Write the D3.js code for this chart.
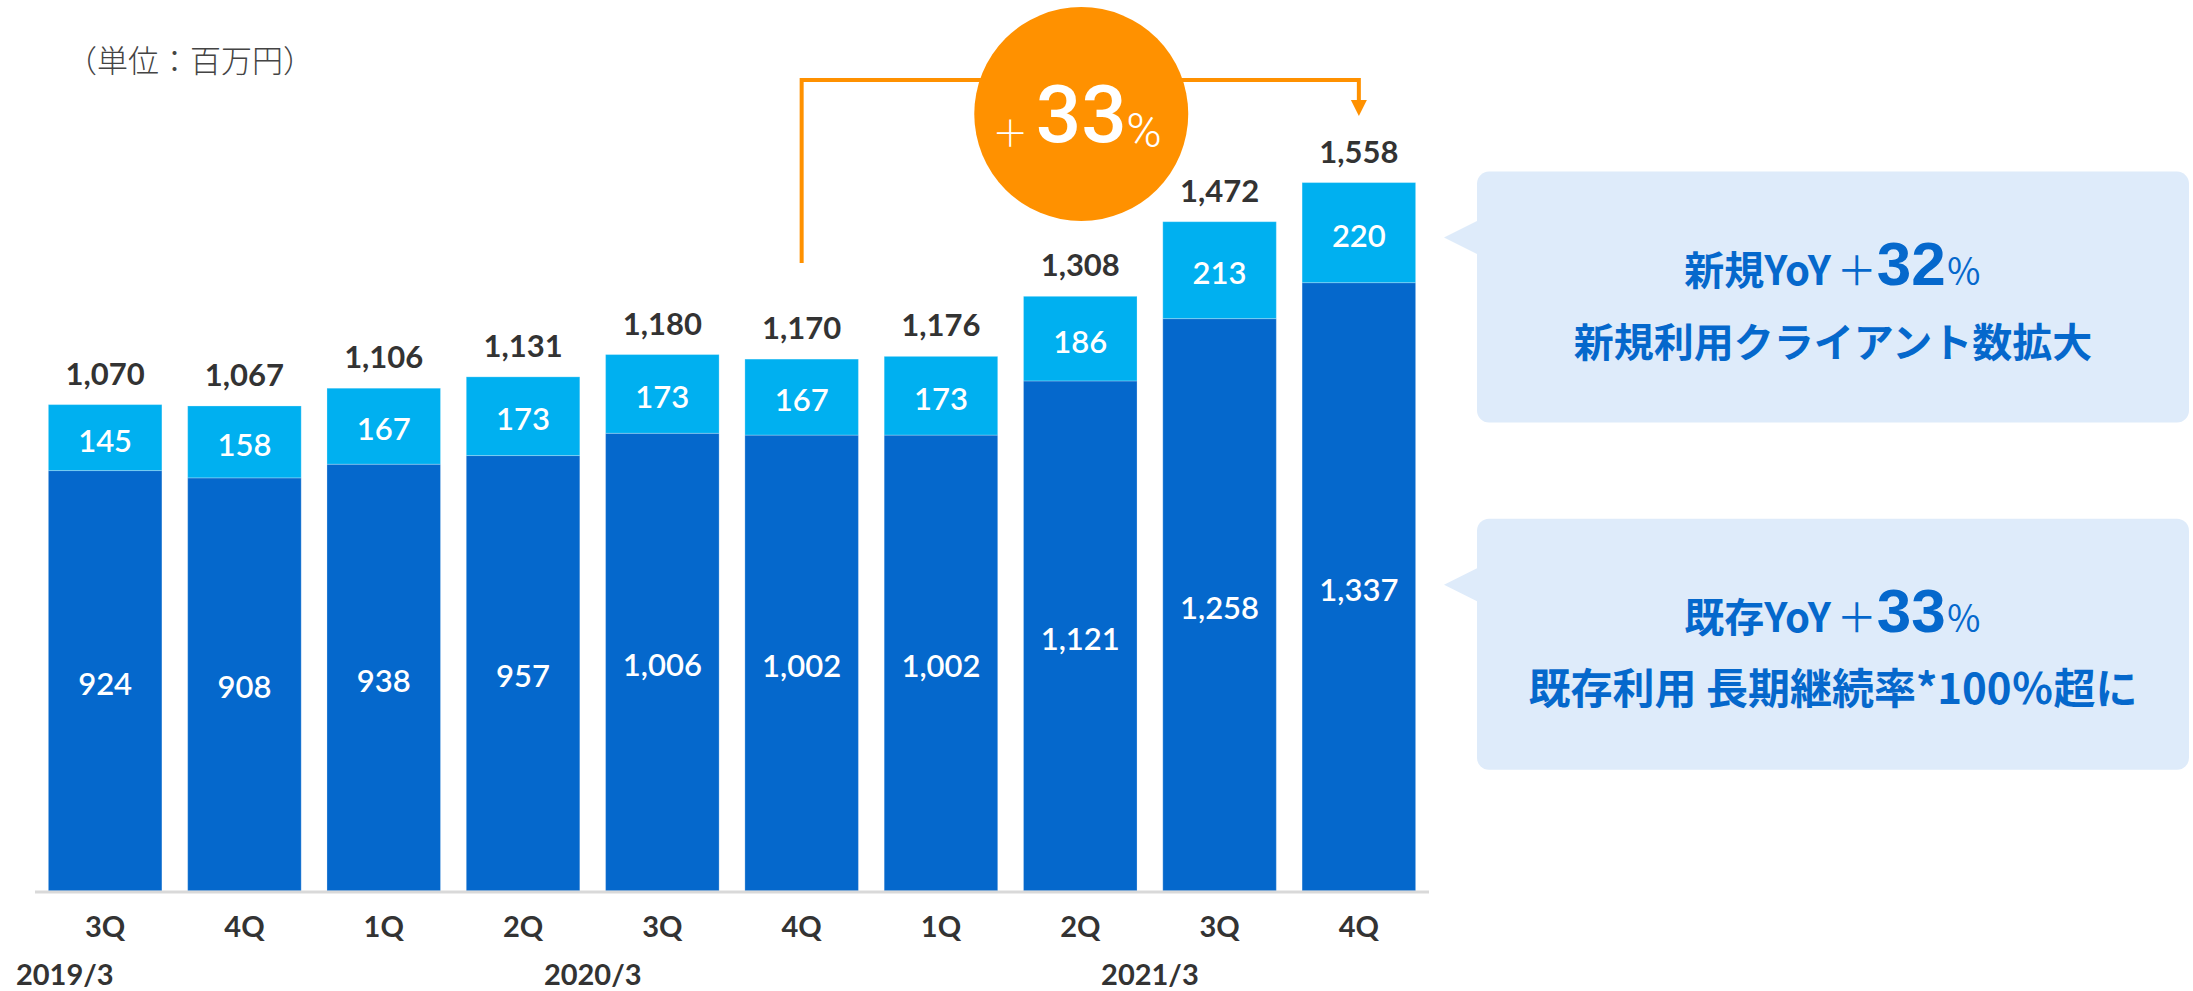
<!DOCTYPE html>
<html>
<head>
<meta charset="utf-8">
<script src="https://cdn.jsdelivr.net/npm/d3@7"></script>
<style>
  body { margin: 0; background: #fff; }
  svg { display: block; }
</style>
</head>
<body>
<div id="chart"></div>
<script>
// quarterly revenue, existing vs new clients (million yen)
let quarters = ["3Q", "4Q", "1Q", "2Q", "3Q", "4Q", "1Q", "2Q", "3Q", "4Q"];
let existing = [924, 908, 938, 957, 1006, 1002, 1002, 1121, 1258, 1337];
let newClients = [145, 158, 167, 173, 173, 167, 173, 186, 213, 220];
let totals = [1070, 1067, 1106, 1131, 1180, 1170, 1176, 1308, 1472, 1558];
let years = ["2019/3", "2020/3", "2021/3"];
let yearIndex = [-0.29, 3.5, 7.5];

let svgWidth = 2193;
let svgHeight = 991;

let darkBlue = "#0568cc";
let lightBlue = "#00b0f0";
let orange = "#ff9100";
let textDark = "#333333";
let latin = "Lato, 'Noto Sans', sans-serif";
let arial = "'Liberation Sans', Arial, sans-serif";
let cjk = "'Noto Sans CJK JP', 'Noto Sans', sans-serif";

let svg = d3.select("#chart")
    .append("svg")
    .attr("width", svgWidth)
    .attr("height", svgHeight);

let data = quarters.map((q, i) => ({
    q: q,
    existing: existing[i],
    newc: newClients[i],
    total: totals[i]
}));

// scales
let xScale = d3.scaleBand()
    .domain(d3.range(quarters.length))
    .range([35, 1429])
    .paddingInner(0.185)
    .paddingOuter(0.096);

let yScale = d3.scaleLinear()
    .domain([0, 1600])
    .range([891, 891 - 1600 * 0.455]);

let xMid = i => xScale(i) + xScale.bandwidth() / 2;

// unit label
svg.append("text")
    .attr("x", 66)
    .attr("y", 58)
    .attr("dominant-baseline", "central")
    .attr("font-family", cjk)
    .attr("font-size", "31px")
    .attr("font-weight", 300)
    .attr("fill", "#444")
    .text("（単位：百万円）");

// bars
let bars = svg.append("g");

bars.selectAll("rect.existing")
    .data(data)
    .enter()
    .append("rect")
    .attr("class", "existing")
    .attr("x", (d, i) => xScale(i))
    .attr("width", xScale.bandwidth())
    .attr("y", d => yScale(d.existing))
    .attr("height", d => yScale(0) - yScale(d.existing))
    .attr("fill", darkBlue)
    .attr("stroke", "rgba(255,255,255,0.25)")
    .attr("stroke-width", 1);

bars.selectAll("rect.newc")
    .data(data)
    .enter()
    .append("rect")
    .attr("class", "newc")
    .attr("x", (d, i) => xScale(i))
    .attr("width", xScale.bandwidth())
    .attr("y", d => yScale(d.existing + d.newc))
    .attr("height", d => yScale(d.existing) - yScale(d.existing + d.newc))
    .attr("fill", lightBlue)
    .attr("stroke", "rgba(255,255,255,0.25)")
    .attr("stroke-width", 1);

// baseline
svg.append("line")
    .attr("x1", xScale.range()[0])
    .attr("x2", xScale.range()[1])
    .attr("y1", yScale(0) + 1)
    .attr("y2", yScale(0) + 1)
    .attr("stroke", "#d9d9d9")
    .attr("stroke-width", 3);

// value labels inside segments
bars.selectAll("text.existing")
    .data(data)
    .enter()
    .append("text")
    .attr("x", (d, i) => xMid(i))
    .attr("y", d => yScale(d.existing / 2) + 2)
    .attr("text-anchor", "middle")
    .attr("dominant-baseline", "central")
    .attr("font-family", latin)
    .attr("font-size", "31px")
    .attr("font-weight", 600)
    .attr("fill", "#fff")
    .text(d => d3.format(",")(d.existing));

bars.selectAll("text.newc")
    .data(data)
    .enter()
    .append("text")
    .attr("x", (d, i) => xMid(i))
    .attr("y", d => yScale(d.existing + d.newc / 2) + 2)
    .attr("text-anchor", "middle")
    .attr("dominant-baseline", "central")
    .attr("font-family", latin)
    .attr("font-size", "31px")
    .attr("font-weight", 600)
    .attr("fill", "#fff")
    .text(d => d3.format(",")(d.newc));

// totals above bars
bars.selectAll("text.total")
    .data(data)
    .enter()
    .append("text")
    .attr("x", (d, i) => xMid(i))
    .attr("y", d => yScale(d.existing + d.newc) - 20)
    .attr("text-anchor", "middle")
    .attr("font-family", latin)
    .attr("font-size", "31px")
    .attr("font-weight", 700)
    .attr("fill", textDark)
    .text(d => d3.format(",")(d.total));

// x axis: quarter labels
let bottomAxis = d3.axisBottom(xScale)
    .tickSize(0)
    .tickPadding(0)
    .tickFormat(i => quarters[i]);

let xAxis = svg.append("g")
    .attr("transform", `translate(0, ${yScale(0)})`)
    .call(bottomAxis);

xAxis.select(".domain").remove();
xAxis.selectAll("text")
    .attr("y", 36)
    .attr("dy", "0.35em")
    .attr("font-family", latin)
    .attr("font-size", "29px")
    .attr("font-weight", 700)
    .attr("fill", textDark);

// fiscal year labels
svg.selectAll("text.year")
    .data(years)
    .enter()
    .append("text")
    .attr("class", "year")
    .attr("x", (d, i) => xMid(0) + yearIndex[i] * xScale.step())
    .attr("y", 975)
    .attr("dy", "0.35em")
    .attr("text-anchor", "middle")
    .attr("font-family", latin)
    .attr("font-size", "29px")
    .attr("font-weight", 700)
    .attr("fill", textDark)
    .text(d => d);

// growth bracket from 4Q 2020/3 to 4Q 2021/3
let fromX = xMid(5);
let toX = xMid(9);
let bracketY = 80;
let arrowTip = yScale(totals[9]) - 66;

svg.append("path")
    .attr("d", `M${fromX},263 V${bracketY} H${toX} V${arrowTip - 16}`)
    .attr("fill", "none")
    .attr("stroke", orange)
    .attr("stroke-width", 4);

svg.append("path")
    .attr("d", `M${toX - 8},${arrowTip - 16} L${toX + 8},${arrowTip - 16} L${toX},${arrowTip} Z`)
    .attr("fill", orange);

let cx = (fromX + toX) / 2 + 1;
svg.append("circle")
    .attr("cx", cx)
    .attr("cy", 114)
    .attr("r", 107)
    .attr("fill", orange);

svg.append("text")
    .attr("x", cx - 71)
    .attr("y", 131)
    .attr("text-anchor", "middle")
    .attr("dominant-baseline", "central")
    .attr("font-family", cjk)
    .attr("font-size", "36px")
    .attr("font-weight", 300)
    .attr("fill", "#fff")
    .text("＋");

svg.append("text")
    .attr("x", cx)
    .attr("y", 142)
    .attr("text-anchor", "middle")
    .attr("font-family", "Roboto, " + arial)
    .attr("font-size", "80px")
    .attr("font-weight", 500)
    .attr("fill", "#fff")
    .text("33");

svg.append("text")
    .attr("x", cx + 45)
    .attr("y", 147)
    .attr("font-family", "Roboto, " + arial)
    .attr("font-size", "48px")
    .attr("font-weight", 300)
    .attr("fill", "#fff")
    .text("%");

// callout boxes
let boxX = 1477;
let boxW = 712;
let boxH = 251;
let callouts = [
    { tipY: yScale(existing[9] + newClients[9] / 2) + 5, head: "新規YoY", pct: "32", sub: "新規利用クライアント数拡大", subSize: 40 },
    { tipY: yScale(existing[9] / 2) - 2, head: "既存YoY", pct: "33", sub: "既存利用 長期継続率*100％超に", subSize: 42 }
];

callouts.forEach(function (c) {
    let top = c.tipY - 66;
    let g = svg.append("g");

    g.append("rect")
        .attr("x", boxX)
        .attr("y", top)
        .attr("width", boxW)
        .attr("height", boxH)
        .attr("rx", 12)
        .attr("fill", "#deebfa");

    g.append("path")
        .attr("d", `M${boxX + 1},${c.tipY - 17} L${boxX - 33},${c.tipY} L${boxX + 1},${c.tipY + 17} Z`)
        .attr("fill", "#deebfa");

    let line1 = g.append("text")
        .attr("x", boxX + boxW / 2)
        .attr("y", top + 113)
        .attr("text-anchor", "middle")
        .attr("fill", darkBlue)
        .attr("font-family", cjk)
        .attr("font-size", "40px")
        .attr("font-weight", 700);

    line1.append("tspan").text(c.head);
    line1.append("tspan").attr("font-weight", 400).attr("dx", 6).text("＋");
    line1.append("tspan")
        .attr("font-family", arial)
        .attr("font-size", "62px")
        .attr("font-weight", 700)
        .text(c.pct);
    line1.append("tspan").attr("font-weight", 400).attr("font-size", "36px").text("％");

    g.append("text")
        .attr("x", boxX + boxW / 2)
        .attr("y", top + 185)
        .attr("text-anchor", "middle")
        .attr("fill", darkBlue)
        .attr("font-family", cjk)
        .attr("font-size", c.subSize + "px")
        .attr("font-weight", 700)
        .text(c.sub);
});
</script>
</body>
</html>
